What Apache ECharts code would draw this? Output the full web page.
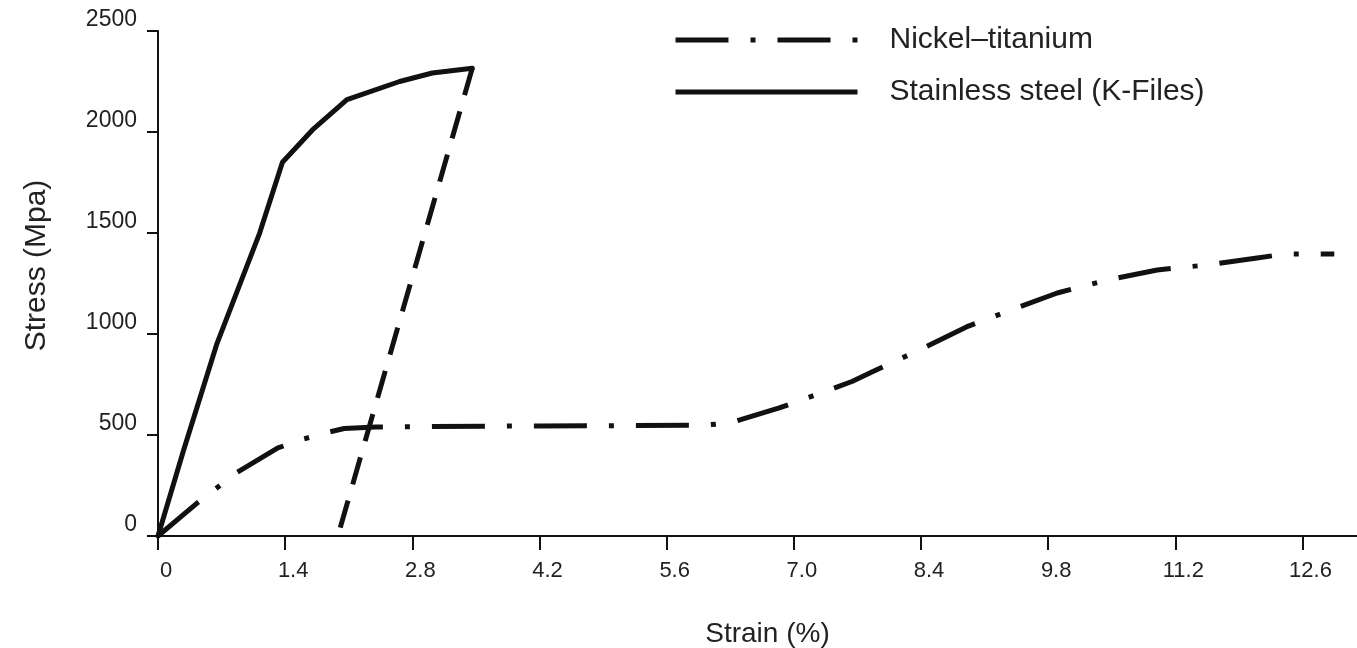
<!DOCTYPE html>
<html><head><meta charset="utf-8">
<script src="https://cdn.jsdelivr.net/npm/echarts@6.0.0/dist/echarts.min.js"></script>
<style>html,body{margin:0;padding:0;background:#fff}#c{width:1357px;height:648px}</style>
</head><body><div id="c"></div>
<script>
// Tick values
const xTicks = [0, 1.4, 2.8, 4.2, 5.6, 7.0, 8.4, 9.8, 11.2, 12.6];
const yTicks = [0, 500, 1000, 1500, 2000, 2500];

// Stainless steel (K-Files) loading curve: strain (%), stress (MPa)
const steelStrain = [0, 0.28, 0.65, 1.12, 1.37, 1.70, 2.08, 2.66, 3.02, 3.46];
const steelStress = [0, 422, 954, 1501, 1850, 2010, 2160, 2250, 2292, 2316];

// Stainless steel unloading (dashed)
const unloadStrain = [3.46, 1.98];
const unloadStress = [2316, 0];

// Nickel–titanium curve
const nitiStrain = [0, 0.43, 0.86, 1.32, 1.60, 1.86, 2.05, 2.40, 4.20, 6.00, 6.30, 6.84, 7.33, 7.64, 7.90, 8.40, 8.90, 9.40, 9.90, 10.45, 11.00, 11.55, 12.10, 12.40, 12.95];
const nitiStress = [0, 163, 312, 436, 480, 512, 532, 540, 545, 548, 560, 634, 713, 765, 820, 925, 1035, 1120, 1203, 1267, 1317, 1342, 1376, 1396, 1396];

const pairs = (xs, ys) => xs.map((x, i) => [x, ys[i]]);
const FONT = "'Liberation Sans', Arial, sans-serif";
const INK = '#111';

const chart = echarts.init(document.getElementById('c'), null, {renderer: 'canvas'});
chart.setOption({
  backgroundColor: '#fff',
  animation: false,
  textStyle: {fontFamily: FONT, color: '#222'},
  grid: {left: 158, right: 0, top: 31, bottom: 112, containLabel: false, outerBoundsMode: 'none'},
  legend: {
    data: ['Nickel–titanium', 'Stainless steel (K-Files)'],
    orient: 'vertical', left: 668, top: 20,
    itemWidth: 182, itemHeight: 20, itemGap: 22,
    itemStyle: {opacity: 0},
    lineStyle: {width: 5, cap: 'butt'},
    textStyle: {fontFamily: FONT, fontSize: 30, color: '#222', padding: [0, 0, 14, 27]},
    selectedMode: false
  },
  xAxis: {
    type: 'value', min: 0, max: 13.2, interval: 1.4,
    name: 'Strain (%)', nameLocation: 'middle', nameGap: 84,
    nameTextStyle: {fontFamily: FONT, fontSize: 28, color: '#222', padding: [0, 0, 0, 20]},
    axisLine: {show: true, onZero: false, lineStyle: {color: INK, width: 2}},
    axisTick: {show: true, length: 14, customValues: xTicks, lineStyle: {color: INK, width: 2}},
    axisLabel: {customValues: xTicks, fontSize: 22, color: '#222', margin: 24,
      padding: [0, 0, 0, 16],
      formatter: v => v === 0 ? '0' : v.toFixed(1)},
    splitLine: {show: false}
  },
  yAxis: {
    type: 'value', min: 0, max: 2500, interval: 500,
    name: 'Stress (Mpa)', nameLocation: 'middle', nameGap: 106, nameRotate: 90,
    nameTextStyle: {fontFamily: FONT, fontSize: 30, color: '#222', padding: [0, 0, 0, 36]},
    axisLine: {show: true, onZero: false, lineStyle: {color: INK, width: 2}},
    axisTick: {show: true, length: 11, lineStyle: {color: INK, width: 2}},
    axisLabel: {fontSize: 23, color: '#222', margin: 21, verticalAlign: 'bottom',
      formatter: v => String(v)},
    splitLine: {show: false}
  },
  series: [
    {
      name: 'Nickel–titanium', type: 'line', data: pairs(nitiStrain, nitiStress),
      symbol: 'none', smooth: false, color: INK,
      lineStyle: {color: INK, width: 5, type: [53, 22, 5, 22], cap: 'butt', join: 'round'}
    },
    {
      name: 'Stainless steel (K-Files)', type: 'line', data: pairs(steelStrain, steelStress),
      symbol: 'none', smooth: false, color: INK,
      lineStyle: {color: INK, width: 5, type: 'solid', cap: 'round', join: 'round'}
    },
    {
      name: 'unloading', type: 'line', data: pairs(unloadStrain, unloadStress),
      symbol: 'none', color: INK,
      lineStyle: {color: INK, width: 5, type: [28, 17], cap: 'butt'}
    }
  ]
});
</script></body></html>
